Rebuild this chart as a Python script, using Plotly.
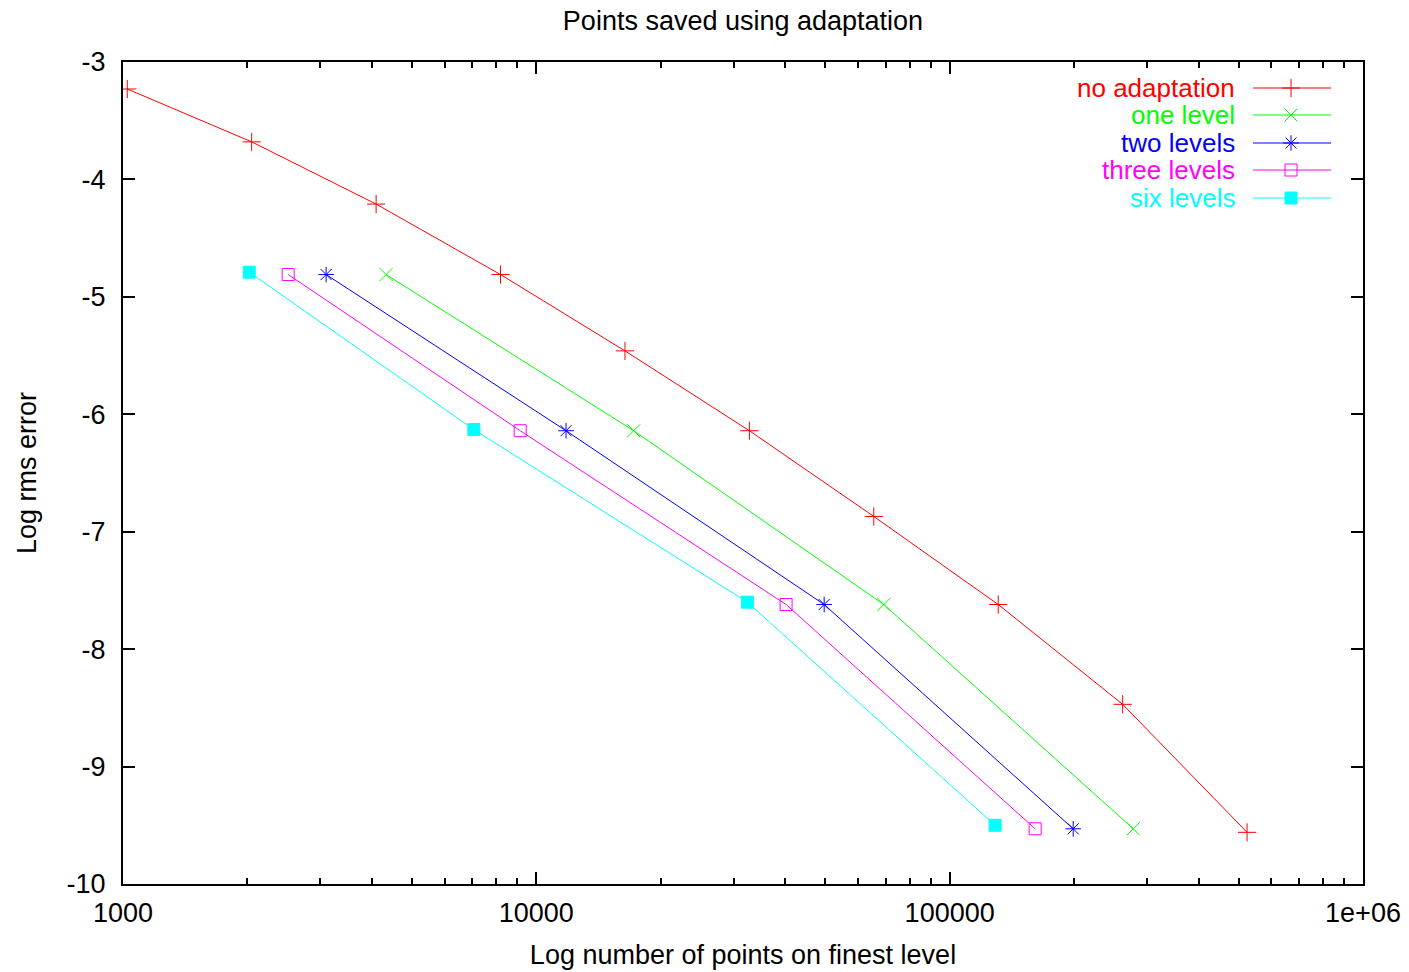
import plotly.graph_objects as go

# ---- data ----
series_names = ["no adaptation", "one level", "two levels", "three levels", "six levels"]

x_none = [1024, 2048, 4096, 8192, 16384, 32768, 65536, 131072, 262144, 524288]
y_none = [-3.23, -3.68, -4.21, -4.81, -5.46, -6.14, -6.87, -7.62, -8.47, -9.56]

x_one = [4330, 17200, 69300, 278000]
y_one = [-4.81, -6.14, -7.62, -9.53]

x_two = [3100, 11800, 49700, 199000]
y_two = [-4.81, -6.14, -7.62, -9.53]

x_three = [2510, 9140, 40200, 161000]
y_three = [-4.81, -6.14, -7.62, -9.53]

x_six = [2020, 7060, 32400, 128800]
y_six = [-4.79, -6.13, -7.60, -9.50]

x_tickvals = [1000, 10000, 100000, 1000000]
x_ticktext = ["1000", "10000", "100000", "1e+06"]
y_tickvals = [-3, -4, -5, -6, -7, -8, -9, -10]
y_ticktext = ["-3", "-4", "-5", "-6", "-7", "-8", "-9", "-10"]

# ---- styles ----
colors = ["#ff0000", "#00ff00", "#0000ff", "#ff00ff", "#00ffff"]
symbols = ["cross-thin", "x-thin", "asterisk", "square-open", "square"]
sizes = [13, 13, 13, 12, 12]
FONT = "Liberation Sans, Arial, sans-serif"
FS = 27
FS_KEY = 26

xs = [x_none, x_one, x_two, x_three, x_six]
ys = [y_none, y_one, y_two, y_three, y_six]

fig = go.Figure()
for name, x, y, c, s, sz in zip(series_names, xs, ys, colors, symbols, sizes):
    fig.add_trace(go.Scatter(
        x=x, y=y, mode="lines+markers", name=name, showlegend=False,
        line=dict(color=c, width=1),
        marker=dict(symbol=s, size=sz, color=c, line=dict(color=c, width=1)),
    ))

# ---- gnuplot-style key (text left, sample right) ----
L, R, T, B = 123, 46, 62, 88
W, H = 1409, 972
pw, ph = W - L - R, H - T - B
row_px = [88, 115, 143, 170, 198]
text_right_px = 1236
line_px = (1253, 1331)
mark_px = 1291


def fx(px):
    return (px - L) / pw


def fy(py):
    return (H - B - py) / ph


for name, c, s, sz, rp in zip(series_names, colors, symbols, sizes, row_px):
    fig.add_trace(go.Scatter(
        x=[fx(line_px[0]), fx(line_px[1])], y=[fy(rp), fy(rp)],
        xaxis="x2", yaxis="y2", mode="lines", showlegend=False,
        line=dict(color=c, width=1), hoverinfo="skip",
    ))
    fig.add_trace(go.Scatter(
        x=[fx(mark_px)], y=[fy(rp)], xaxis="x2", yaxis="y2",
        mode="markers", showlegend=False, hoverinfo="skip",
        marker=dict(symbol=s, size=sz, color=c, line=dict(color=c, width=1)),
    ))
    fig.add_annotation(
        x=fx(text_right_px), y=fy(rp), xref="paper", yref="paper",
        text=name, showarrow=False, xanchor="right", yanchor="middle",
        borderpad=0, font=dict(family=FONT, size=FS_KEY, color=c),
    )

minor_x = [m * 10 ** e for e in (3, 4, 5) for m in range(2, 10)]

fig.update_layout(
    width=W, height=H,
    margin=dict(l=L, r=R, t=T, b=B),
    paper_bgcolor="white", plot_bgcolor="white",
    font=dict(family=FONT, size=FS, color="black"),
    title=dict(text="Points saved using adaptation", x=(L + pw / 2) / W,
               xanchor="center", y=1 - 21 / H, yanchor="middle",
               font=dict(family=FONT, size=FS, color="black")),
    xaxis=dict(
        type="log", range=[3, 6], tickmode="array",
        tickvals=x_tickvals, ticktext=x_ticktext, automargin=False,
        ticks="inside", ticklen=12, tickwidth=1.5, tickcolor="black",
        showline=True, linewidth=2, linecolor="black", mirror="allticks",
        showgrid=False, zeroline=False, ticklabelstandoff=4,
        minor=dict(tickmode="array", tickvals=minor_x, ticks="inside",
                   ticklen=6, tickwidth=1.5, tickcolor="black", showgrid=False),
        title=dict(text="Log number of points on finest level", standoff=18,
                   font=dict(family=FONT, size=FS)),
    ),
    yaxis=dict(
        range=[-10, -3], tickmode="array", tickvals=y_tickvals,
        ticktext=y_ticktext, automargin=False,
        ticks="inside", ticklen=12, tickwidth=1.5, tickcolor="black",
        showline=True, linewidth=2, linecolor="black", mirror="allticks",
        showgrid=False, zeroline=False, ticklabelstandoff=10,
        title=dict(text="Log rms error", standoff=22,
                   font=dict(family=FONT, size=FS)),
    ),
    xaxis2=dict(overlaying="x", range=[0, 1], visible=False, anchor="y2"),
    yaxis2=dict(overlaying="y", range=[0, 1], visible=False, anchor="x2"),
)

fig.write_html("out.html")
